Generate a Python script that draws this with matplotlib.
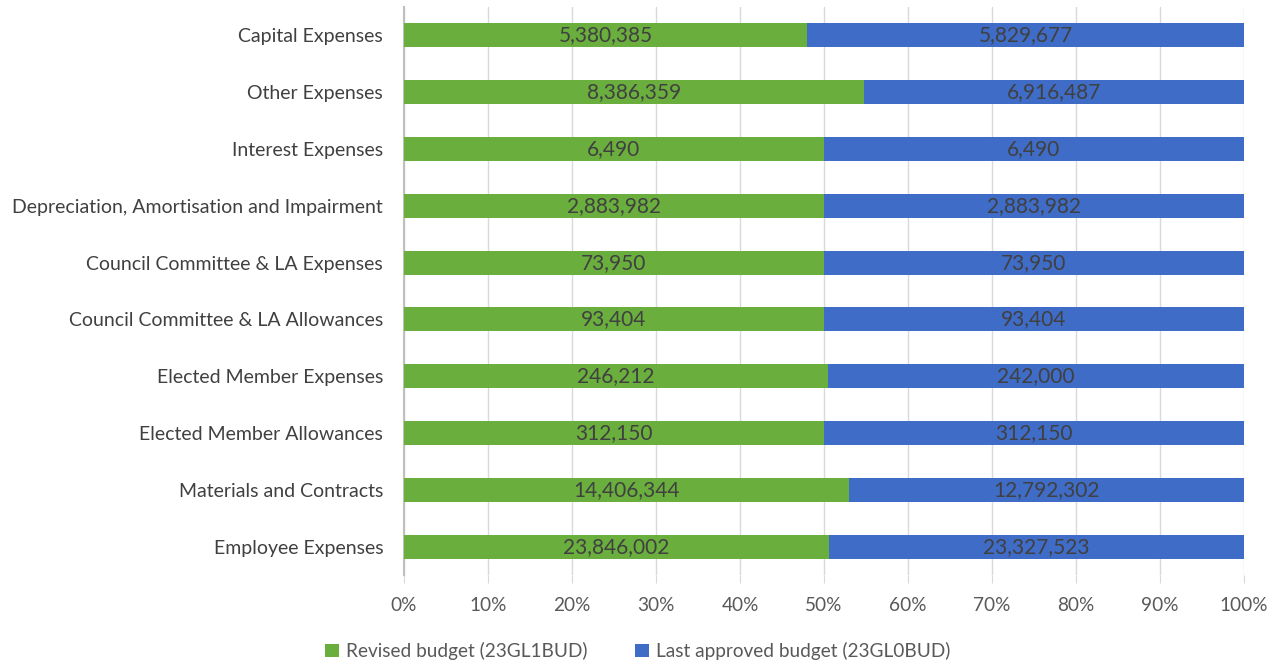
import numpy as np
import matplotlib.pyplot as plt
from matplotlib.ticker import PercentFormatter

categories = [
    "Employee Expenses",
    "Materials and Contracts",
    "Elected Member Allowances",
    "Elected Member Expenses",
    "Council Committee & LA Allowances",
    "Council Committee & LA Expenses",
    "Depreciation, Amortisation and Impairment",
    "Interest Expenses",
    "Other Expenses",
    "Capital Expenses",
]
revised = [23846002, 14406344, 312150, 246212, 93404, 73950, 2883982, 6490, 8386359, 5380385]
approved = [23327523, 12792302, 312150, 242000, 93404, 73950, 2883982, 6490, 6916487, 5829677]

series_names = ["Revised budget (23GL1BUD)", "Last approved budget (23GL0BUD)"]
colors = ["#6AAE3E", "#3F6CC6"]

plt.rcParams["font.family"] = ["Lato", "DejaVu Sans"]

rev = np.array(revised, dtype=float)
app = np.array(approved, dtype=float)
tot = rev + app
rev_pct = rev / tot * 100
app_pct = app / tot * 100

fig = plt.figure(figsize=(12.76, 6.61), dpi=100)
ax = fig.add_axes([404 / 1276, 1 - 575 / 661, 840 / 1276, 568 / 661])

y = np.arange(len(categories))
h = 0.42
b1 = ax.barh(y, rev_pct, height=h, color=colors[0], label=series_names[0], zorder=3)
b2 = ax.barh(y, app_pct, left=rev_pct, height=h, color=colors[1], label=series_names[1], zorder=3)

for i in range(len(categories)):
    ax.text(rev_pct[i] / 2, y[i], "{:,}".format(revised[i]), ha="center", va="center",
            fontsize=15, color="#404040", zorder=4)
    ax.text(rev_pct[i] + app_pct[i] / 2, y[i], "{:,}".format(approved[i]), ha="center",
            va="center", fontsize=15, color="#404040", zorder=4)

ax.set_xlim(0, 100)
ax.set_ylim(-0.5, len(categories) - 0.5)
ax.set_xticks(np.arange(0, 101, 10))
ax.xaxis.set_major_formatter(PercentFormatter(decimals=0))
ax.set_yticks(y)
ax.set_yticklabels(categories)
ax.grid(axis="x", color="#D9D9D9", linewidth=1, zorder=0)
for s in ["top", "right", "bottom"]:
    ax.spines[s].set_visible(False)
ax.spines["left"].set_color("#BFBFBF")
ax.spines["left"].set_linewidth(1.5)
ax.tick_params(axis="y", length=0, pad=15, labelsize=14, labelcolor="#404040")
ax.tick_params(axis="x", length=6, color="#D9D9D9", pad=10, labelsize=13.7, labelcolor="#595959")

fig.legend(handles=[b1, b2], loc="center", bbox_to_anchor=(0.5, 1 - 651 / 661), ncol=2,
           frameon=False, fontsize=13.7, labelcolor="#595959", handlelength=0.7,
           handleheight=0.7, columnspacing=2.5, handletextpad=0.4)

fig.savefig("out.png", dpi=100)
